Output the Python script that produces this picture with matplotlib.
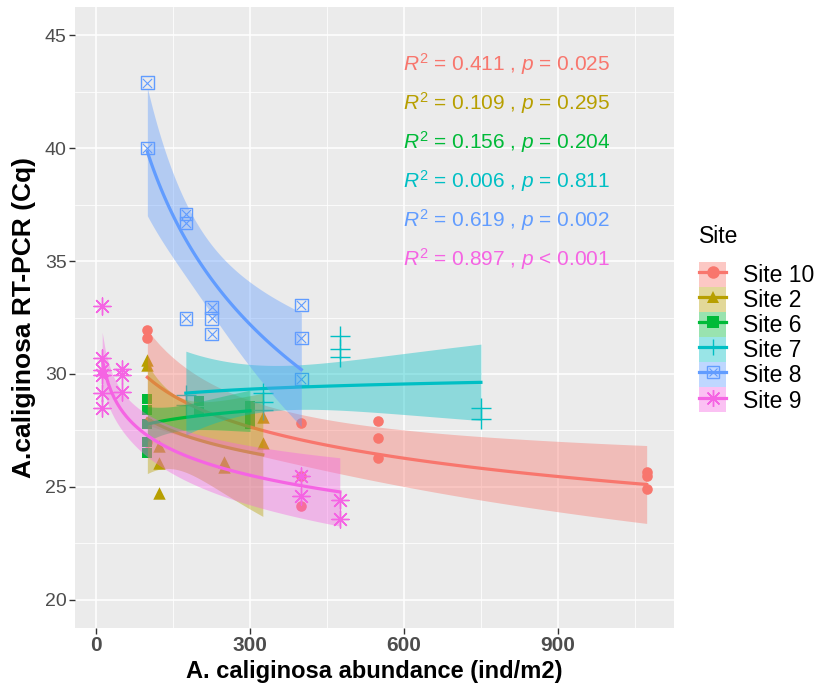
import math
import numpy as np
import matplotlib
matplotlib.use("Agg")
import matplotlib.pyplot as plt
from matplotlib.patches import Patch
from matplotlib.lines import Line2D

# ---- data ----
sites = ["Site 10", "Site 2", "Site 6", "Site 7", "Site 8", "Site 9"]
colors = ["#F8766D", "#B79F00", "#00BA38", "#00BFC4", "#619CFF", "#F564E3"]

site10_x = [100, 100, 100, 400, 400, 400, 550, 550, 550, 1073, 1073, 1073]
site10_y = [31.95, 31.6, 27.0, 27.85, 25.46, 24.17, 27.93, 27.17, 26.27, 25.65, 25.5, 24.9]
site2_x = [100, 100, 123, 123, 123, 249, 249, 325, 325]
site2_y = [30.6, 30.4, 26.8, 26.07, 24.75, 26.1, 25.9, 28.1, 26.93]
site6_x = [100, 100, 100, 100, 100, 200, 200, 300, 300, 300]
site6_y = [28.9, 28.4, 27.8, 27.0, 26.5, 28.8, 28.3, 28.6, 28.2, 27.8]
site7_x = [175, 175, 325, 325, 325, 475, 475, 475, 750, 750]
site7_y = [29.07, 28.63, 29.15, 28.78, 28.4, 31.68, 31.1, 30.75, 28.48, 28.02]
site8_x = [100, 100, 175, 175, 175, 225, 225, 225, 400, 400, 400]
site8_y = [42.9, 40.0, 37.08, 36.69, 32.46, 32.95, 32.46, 31.76, 33.05, 31.58, 29.78]
site9_x = [12, 12, 12, 12, 12, 12, 50, 50, 50, 400, 400, 475, 475]
site9_y = [33.0, 30.7, 30.18, 29.96, 29.15, 28.48, 30.2, 29.96, 29.2, 25.46, 24.6, 24.4, 23.57]

stat_labels = [
    r"$R^2$ = 0.411 , $p$ = 0.025",
    r"$R^2$ = 0.109 , $p$ = 0.295",
    r"$R^2$ = 0.156 , $p$ = 0.204",
    r"$R^2$ = 0.006 , $p$ = 0.811",
    r"$R^2$ = 0.619 , $p$ = 0.002",
    r"$R^2$ = 0.897 , $p$ < 0.001",
]
label_x = 598
label_y = [43.72, 42.0, 40.27, 38.54, 36.82, 35.09]

xs = [site10_x, site2_x, site6_x, site7_x, site8_x, site9_x]
ys = [site10_y, site2_y, site6_y, site7_y, site8_y, site9_y]
markers = ["o", "^", "s", "+", "sx", (8, 2, 0)]
msizes = [58, 80, 60, 200, 80, 150]

plt.rcParams["font.family"] = ["Liberation Sans", "DejaVu Sans"]
plt.rcParams["mathtext.fontset"] = "custom"
plt.rcParams["mathtext.rm"] = "Liberation Sans"
plt.rcParams["mathtext.it"] = "Liberation Sans:italic"


def t_quantile(df, level=0.95):
    # two-sided t critical value via numeric integration of the pdf
    c = math.gamma((df + 1) / 2) / (math.sqrt(df * math.pi) * math.gamma(df / 2))
    t = np.linspace(0, 12, 40001)
    pdf = c * (1 + t ** 2 / df) ** (-(df + 1) / 2)
    cdf = np.concatenate([[0], np.cumsum((pdf[1:] + pdf[:-1]) / 2 * np.diff(t))])
    return np.interp(level / 2, cdf, t)


def log_fit(x, y):
    # y ~ log(x) with 95% confidence band, like geom_smooth(method = "lm")
    x = np.asarray(x, float)
    y = np.asarray(y, float)
    lx = np.log(x)
    n = len(x)
    X = np.column_stack([np.ones(n), lx])
    beta, *_ = np.linalg.lstsq(X, y, rcond=None)
    resid = y - X @ beta
    s2 = resid @ resid / (n - 2)
    cov = s2 * np.linalg.inv(X.T @ X)
    xg = np.linspace(x.min(), x.max(), 80)
    Xg = np.column_stack([np.ones(len(xg)), np.log(xg)])
    fit = Xg @ beta
    se = np.sqrt(np.einsum("ij,jk,ik->i", Xg, cov, Xg))
    tq = t_quantile(n - 2)
    return xg, fit, fit - tq * se, fit + tq * se


fig = plt.figure(figsize=(8.17, 6.88), dpi=100)
ax = fig.add_axes([0.0918, 0.0872, 0.733, 0.9026])
ax.set_facecolor("#EBEBEB")
for s in ax.spines.values():
    s.set_visible(False)

ax.set_xlim(-41, 1126)
ax.set_ylim(18.75, 46.25)
ax.set_xticks([0, 300, 600, 900])
ax.set_xticks([150, 450, 750, 1050], minor=True)
ax.set_yticks([20, 25, 30, 35, 40, 45])
ax.set_yticks([22.5, 27.5, 32.5, 37.5, 42.5], minor=True)
ax.grid(which="major", color="white", lw=1.1)
ax.grid(which="minor", color="white", lw=0.55)
ax.set_axisbelow(True)
ax.tick_params(which="major", length=4, width=1, color="#333333")
ax.tick_params(which="minor", length=0)
ax.tick_params(axis="y", labelsize=14, labelcolor="#4D4D4D", pad=2)
ax.tick_params(axis="x", labelsize=15, labelcolor="#4D4D4D", pad=2)
for lab in ax.get_xticklabels():
    lab.set_weight("bold")

# points first
for i in range(len(sites)):
    c = colors[i]
    m = markers[i]
    if m == "sx":
        ax.scatter(xs[i], ys[i], marker="s", s=msizes[i], facecolors="none",
                   edgecolors=c, linewidths=1.0, zorder=3)
        ax.scatter(xs[i], ys[i], marker="x", s=msizes[i] * 0.55, color=c,
                   linewidths=0.8, zorder=3)
    elif m in ("+", (8, 2, 0)):
        ax.scatter(xs[i], ys[i], marker=m, s=msizes[i], color=c,
                   linewidths=1.0, zorder=3)
    else:
        ax.scatter(xs[i], ys[i], marker=m, s=msizes[i], color=c,
                   linewidths=0, zorder=3)

# smooths: ribbon + line per group
for i in range(len(sites)):
    xg, fit, lo, hi = log_fit(xs[i], ys[i])
    z = 4 + i
    ax.fill_between(xg, lo, hi, color=colors[i], alpha=0.4, lw=0, zorder=z)
    ax.plot(xg, fit, color=colors[i], lw=2.3, zorder=z + 0.5)

for i in range(len(sites)):
    ax.text(label_x, label_y[i], stat_labels[i], color=colors[i], fontsize=15,
            ha="left", va="center", zorder=20)

ax.set_xlabel("A. caliginosa abundance (ind/m2)", fontsize=17, fontweight="bold",
              labelpad=3)
ax.set_ylabel("A.caliginosa RT-PCR (Cq)", fontsize=19, fontweight="bold", labelpad=6)

# legend
handles = []
for i in range(len(sites)):
    c = colors[i]
    parts = [Patch(facecolor=c, alpha=0.4, edgecolor="none"),
             Line2D([], [], color=c, lw=2.3)]
    m = markers[i]
    if m == "sx":
        parts.append(Line2D([], [], ls="none", marker="s", mfc="none", mec=c, ms=8, mew=1))
        parts.append(Line2D([], [], ls="none", marker="x", color=c, ms=6, mew=0.8))
    elif m in ("+", (8, 2, 0)):
        parts.append(Line2D([], [], ls="none", marker=m, color=c, ms=12, mew=1))
    else:
        parts.append(Line2D([], [], ls="none", marker=m, color=c, ms=9, mew=0))
    handles.append(tuple(parts))

leg = fig.legend(handles, sites, loc="upper left", bbox_to_anchor=(0.842, 0.69),
                 frameon=False, fontsize=16.5, title="Site", title_fontsize=16.5,
                 handlelength=1.15, handleheight=1.3, labelspacing=0.0,
                 handletextpad=0.75, borderpad=0, alignment="left")
leg._legend_box.sep = 10

fig.savefig("out.png", dpi=100)
